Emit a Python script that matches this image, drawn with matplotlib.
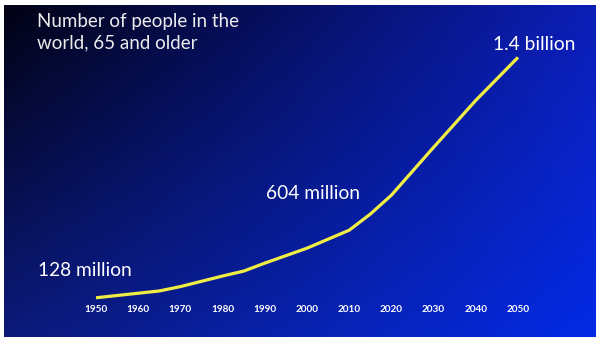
import numpy as np
import matplotlib
matplotlib.use("Agg")
import matplotlib.pyplot as plt

# data (millions)
years = [1950, 1960, 1965, 1970, 1980, 1985, 1990, 2000, 2010, 2015, 2020, 2030, 2040, 2050]
people = [128, 152, 164, 187, 243, 269, 311, 390, 485, 570, 670, 923, 1171, 1398]
tick_years = [1950, 1960, 1970, 1980, 1990, 2000, 2010, 2020, 2030, 2040, 2050]
labels = ["128 million", "604 million", "1.4 billion"]

W, H = 596, 341
fig = plt.figure(figsize=(W / 100, H / 100), dpi=100, facecolor="white")

# background gradient
bg = fig.add_axes([4 / W, 4 / H, (W - 4) / W, (H - 9) / H])
gx = np.linspace(0, 1, 300)
gy = np.linspace(0, 1, 200)
X, Y = np.meshgrid(gx, gy)  # Y=0 top
tl = np.array([2, 2, 20])
tr = np.array([12, 30, 182])
bl = np.array([12, 26, 122])
br = np.array([4, 42, 230])
img = ((1 - X)[..., None] * (1 - Y)[..., None] * tl + X[..., None] * (1 - Y)[..., None] * tr
       + (1 - X)[..., None] * Y[..., None] * bl + X[..., None] * Y[..., None] * br) / 255
img = np.clip(img, 0, 1)
bg.imshow(img, aspect="auto", extent=[0, 1, 0, 1], interpolation="bilinear")
bg.axis("off")

# data axes: 1950 at x=96px, 2050 at x=518px, 0 at y=322px, 1400 at y=57px
ax = fig.add_axes([96 / W, (H - 322) / H, (518 - 96) / W, (322 - 57) / H])
ax.set_xlim(1950, 2050)
ax.set_ylim(0, 1400)
ax.patch.set_alpha(0)
for s in ax.spines.values():
    s.set_visible(False)
ax.plot(years, people, color="#f0ee44", lw=2.3, solid_capstyle="butt", clip_on=False)

ax.set_xticks(tick_years)
ax.set_xticklabels([str(y) for y in tick_years], color="white", fontsize=7.2,
                   fontweight="bold", family="Lato")
ax.tick_params(axis="x", length=0, pad=-12)
ax.set_yticks([])

fig.text(38 / W, 1 - 270 / H, labels[0], color="white", fontsize=13.8, family="Lato",
         va="center", ha="left")
fig.text(313 / W, 1 - 193 / H, labels[1], color="white", fontsize=13.8, family="Lato",
         va="center", ha="center")
fig.text(534 / W, 1 - 44 / H, labels[2], color="white", fontsize=13.8, family="Lato",
         va="center", ha="center")

fig.text(37 / W, 1 - 13 / H, "Number of people in the\nworld, 65 and older", color="#ececec",
         fontsize=13.5, family="Lato", va="top", ha="left", linespacing=1.3)

fig.savefig("out.png", dpi=100, facecolor="white")
